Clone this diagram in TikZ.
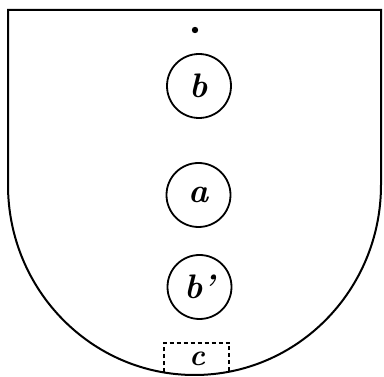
\documentclass[tikz,border=0pt]{standalone}
\usetikzlibrary{positioning}
\begin{document}
\begin{tikzpicture}[x=1pt, y=1pt, every node/.style={font=\fontsize{34}{34}\selectfont\bfseries\itshape},
  ring/.style={draw, circle, line width=1.8pt, minimum size=64pt, inner sep=0pt}]
  \useasboundingbox (0,0) rectangle (384,377);
  % shield outline
  \draw[line width=2pt] (8,192) -- (8,367) -- (381,367) -- (381,192)
    arc[start angle=0, end angle=-180, x radius=186.5, y radius=190] -- cycle;
  \fill (195,347) circle[radius=3.2];
  \node[ring] (b) at (199,291) {b};
  \node[ring] (a) at (198.5,182) {a};
  \node[ring] (bb) at (199.5,90) {b'};
  % dashed box at the foot
  \coordinate (cl) at (164,4.5);
  \coordinate (cr) at (229,5.3);
  \draw[line width=1.6pt, dash pattern=on 4pt off 3pt] (cl) -- (164,34) -- (229,34) -- (cr);
  \node[font=\fontsize{30}{30}\selectfont\bfseries\itshape] (c) at (197,18) {c};
\end{tikzpicture}
\end{document}
